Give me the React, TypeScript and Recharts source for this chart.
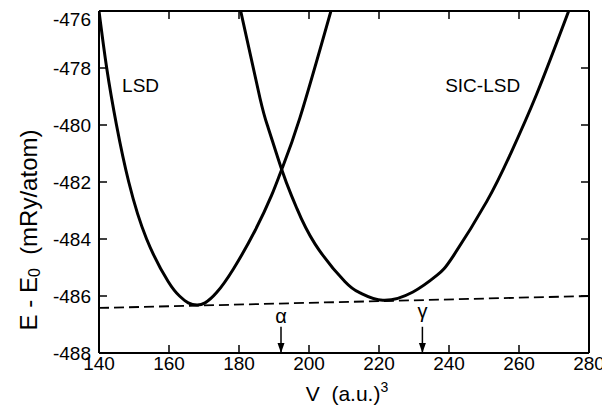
import React from 'react';
import {
  ComposedChart, Line, XAxis, YAxis, ReferenceLine, ReferenceDot,
} from 'recharts';

// ---- data ----
const xTicks = [140, 160, 180, 200, 220, 240, 260, 280];
const yTicks = [-488, -486, -484, -482, -480, -478, -476];

const lsdV = [140, 142.2, 145, 148.5, 153.6, 159.8, 163, 165.5, 168, 170.3, 173.6, 178.4, 184.6, 189.3, 192.2, 197.4, 206.5];
const lsdE = [-476, -478, -480, -482, -484, -485.5, -486.0, -486.24, -486.32, -486.24, -485.88, -485.05, -483.7, -482.47, -481.56, -479.75, -475.9];

const sicV = [180.3, 186, 188.4, 192.2, 195, 196.5, 201.7, 210.3, 214.6, 221.1, 229.7, 236.6, 241.2, 250.8, 257.4, 265, 274.5];
const sicE = [-475.9, -479.06, -480.12, -481.56, -482.48, -482.92, -484.17, -485.5, -485.89, -486.15, -485.86, -485.27, -484.6, -482.68, -481.06, -478.93, -475.9];

const tangentV = [140, 280];
const tangentE = [-486.42, -486.0];

const arrowVs = [192, 232.4];
const arrowTopE = -487.08;
const arrowLabels = ['α', 'γ'];
const arrowLabelE = [-486.95, -486.77];

const curveLabels = ['LSD', 'SIC-LSD'];
const curveLabelV = [146.6, 238.9];
const curveLabelE = -478.83;

const toPts = (vs: number[], es: number[]) => vs.map((v, i) => ({ v, e: es[i] }));
const lsdData = toPts(lsdV, lsdE);
const sicData = toPts(sicV, sicE);
const tangentData = toPts(tangentV, tangentE);

const FONT = '"Liberation Sans", Arial, Helvetica, sans-serif';

const YLabel = (props: any) => {
  const vb = props.viewBox || {};
  const cx = vb.x - 11;
  const cy = vb.y + vb.height / 2 + 48;
  return (
    <text x={cx} y={cy} transform={`rotate(-90 ${cx} ${cy})`} textAnchor="middle"
      dominantBaseline="central" fontFamily={FONT} fontSize={24} fill="#000"
      style={{ whiteSpace: 'pre' }}>
      <tspan>{'E - E'}</tspan>
      <tspan fontSize={16} dy={6}>0</tspan>
      <tspan dy={-6}>{'  (mRy/atom)'}</tspan>
    </text>
  );
};

const XLabel = (props: any) => {
  const vb = props.viewBox || {};
  const cx = vb.x + vb.width / 2 + 3;
  const by = vb.y + 48;
  return (
    <text x={cx} y={by} textAnchor="middle" fontFamily={FONT} fontSize={21} fill="#000"
      style={{ whiteSpace: 'pre' }}>
      <tspan>{'V  (a.u.)'}</tspan>
      <tspan fontSize={14} dy={-9}>3</tspan>
    </text>
  );
};

const EmptyTick = () => <g />;

const axisLine = { stroke: '#000', strokeWidth: 2 };
const tickLine = { stroke: '#000', strokeWidth: 1.5 };
const tickStyle = { fill: '#000', fontSize: 19, fontFamily: FONT };

export default function App() {
  return (
    <ComposedChart width={602} height={400} margin={{ top: 2, right: 16, bottom: 25, left: 31 }}>
      <XAxis xAxisId={0} dataKey="v" type="number" domain={[140, 280]} ticks={xTicks}
        allowDataOverflow height={30} tickSize={-8} tickMargin={12}
        axisLine={axisLine} tickLine={tickLine} tick={tickStyle} label={XLabel} />
      <XAxis xAxisId="top" orientation="top" dataKey="v" type="number" domain={[140, 280]}
        ticks={xTicks} allowDataOverflow height={1} tickSize={-8} tick={EmptyTick}
        axisLine={axisLine} tickLine={tickLine} />
      <YAxis yAxisId={0} type="number" domain={[-488, -476]} ticks={yTicks} allowDataOverflow
        width={60} tickSize={-8} tickMargin={16} axisLine={axisLine} tickLine={tickLine}
        tick={tickStyle} label={YLabel} />
      <YAxis yAxisId="right" orientation="right" type="number" domain={[-488, -476]}
        ticks={yTicks} allowDataOverflow width={5} tickSize={-8} tick={EmptyTick}
        axisLine={axisLine} tickLine={tickLine} />

      <Line data={tangentData} dataKey="e" type="linear" stroke="#000" strokeWidth={1.8}
        strokeDasharray="10 5" dot={false} activeDot={false} isAnimationActive={false} />
      <Line data={lsdData} dataKey="e" type="natural" stroke="#000" strokeWidth={3}
        strokeLinejoin="round" dot={false} activeDot={false} isAnimationActive={false} />
      <Line data={sicData} dataKey="e" type="natural" stroke="#000" strokeWidth={3}
        strokeLinejoin="round" dot={false} activeDot={false} isAnimationActive={false} />

      {arrowVs.map((v, i) => (
        <ReferenceLine key={'al' + i} segment={[{ x: v, y: arrowTopE }, { x: v, y: -488 }]}
          stroke="#000" strokeWidth={1.5} />
      ))}
      {arrowVs.map((v, i) => (
        <ReferenceDot key={'ah' + i} x={v} y={-488} r={0}
          shape={(p: any) => (
            <path d={`M${p.cx - 3.5},${p.cy - 10} L${p.cx + 3.5},${p.cy - 10} L${p.cx},${p.cy} Z`} fill="#000" />
          )} />
      ))}
      {arrowVs.map((v, i) => (
        <ReferenceDot key={'at' + i} x={v} y={arrowLabelE[i]} r={0}
          shape={(p: any) => (
            <text x={p.cx} y={p.cy} textAnchor="middle" fontFamily={FONT} fontSize={20} fill="#000">
              {arrowLabels[i]}
            </text>
          )} />
      ))}
      {curveLabels.map((t, i) => (
        <ReferenceDot key={'cl' + i} x={curveLabelV[i]} y={curveLabelE} r={0}
          shape={(p: any) => (
            <text x={p.cx} y={p.cy} textAnchor="start" fontFamily={FONT} fontSize={19} fill="#000">
              {t}
            </text>
          )} />
      ))}
    </ComposedChart>
  );
}
